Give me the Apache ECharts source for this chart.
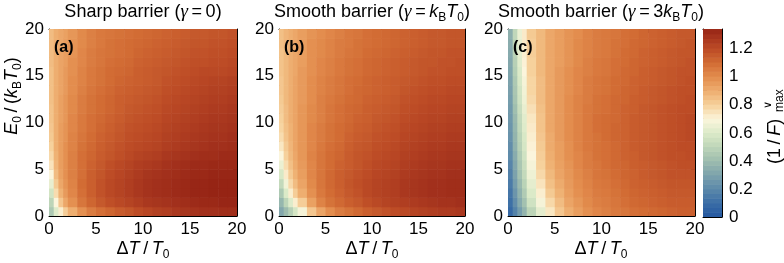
<!DOCTYPE html>
<html><head><meta charset="utf-8">
<script src="https://cdn.jsdelivr.net/npm/echarts@6/dist/echarts.min.js"></script>
<style>html,body{margin:0;padding:0;background:#fff}#c{width:784px;height:263px}</style>
</head><body><div id="c"></div>
<script>
// cell edges (data units) of the sampled grid
const xEdges = [0,0.5,1,1.5,2,3,4,5,6,7,8,9,10,11,12,13,14,15,16,17,18,19,20];
const yEdges = [0,1,2,3,4,5,6,7,8,9,10,11,12,13,14,15,16,17,18,19,20];
const axisTicks = [0,5,10,15,20];
const colorbarTicks = [0,0.2,0.4,0.6,0.8,1,1.2];
const panelTitles = ['Sharp barrier', 'Smooth barrier', 'Smooth barrier'];
const panelTags = ['(a)', '(b)', '(c)'];

// (1/F)max values, rows from E0 = 0.5 (bottom) to 19.5 (top)
const panelA = [
[0.45,0.61,0.72,0.81,0.90,0.99,1.05,1.09,1.12,1.15,1.17,1.20,1.22,1.24,1.25,1.27,1.28,1.29,1.30,1.30,1.31,1.31],
[0.50,0.70,0.83,0.92,0.99,1.07,1.12,1.16,1.19,1.21,1.23,1.25,1.27,1.28,1.29,1.30,1.31,1.32,1.33,1.33,1.34,1.34],
[0.57,0.77,0.89,0.96,1.02,1.09,1.14,1.18,1.21,1.23,1.25,1.27,1.29,1.30,1.31,1.32,1.33,1.34,1.34,1.35,1.35,1.35],
[0.64,0.82,0.92,0.98,1.03,1.10,1.14,1.18,1.21,1.23,1.25,1.27,1.29,1.30,1.31,1.32,1.33,1.34,1.34,1.35,1.35,1.35],
[0.70,0.86,0.94,0.99,1.04,1.09,1.14,1.17,1.20,1.22,1.24,1.26,1.28,1.29,1.30,1.31,1.32,1.33,1.33,1.34,1.34,1.34],
[0.75,0.88,0.95,0.99,1.04,1.09,1.13,1.16,1.19,1.21,1.23,1.25,1.26,1.27,1.29,1.30,1.31,1.32,1.32,1.33,1.33,1.33],
[0.78,0.89,0.95,0.99,1.04,1.09,1.12,1.15,1.17,1.19,1.21,1.23,1.24,1.25,1.27,1.28,1.29,1.30,1.31,1.31,1.32,1.32],
[0.80,0.90,0.95,0.99,1.03,1.08,1.11,1.14,1.16,1.18,1.20,1.21,1.22,1.23,1.25,1.26,1.27,1.28,1.29,1.30,1.30,1.31],
[0.82,0.90,0.95,0.98,1.03,1.07,1.10,1.13,1.15,1.17,1.19,1.20,1.21,1.22,1.24,1.25,1.26,1.27,1.28,1.29,1.29,1.30],
[0.83,0.90,0.95,0.98,1.02,1.06,1.09,1.12,1.14,1.16,1.18,1.19,1.20,1.21,1.23,1.24,1.25,1.26,1.27,1.28,1.28,1.29],
[0.84,0.90,0.94,0.97,1.02,1.06,1.09,1.11,1.13,1.15,1.17,1.18,1.19,1.20,1.22,1.23,1.24,1.25,1.26,1.27,1.27,1.28],
[0.84,0.90,0.94,0.97,1.01,1.05,1.08,1.10,1.12,1.14,1.16,1.17,1.18,1.19,1.21,1.22,1.23,1.24,1.25,1.26,1.26,1.27],
[0.85,0.90,0.94,0.97,1.01,1.05,1.08,1.10,1.12,1.14,1.15,1.16,1.17,1.18,1.20,1.21,1.22,1.23,1.24,1.25,1.25,1.26],
[0.85,0.90,0.93,0.96,1.00,1.04,1.07,1.09,1.11,1.13,1.14,1.15,1.16,1.17,1.19,1.20,1.21,1.22,1.23,1.24,1.24,1.25],
[0.85,0.90,0.93,0.96,1.00,1.03,1.06,1.08,1.10,1.12,1.13,1.14,1.15,1.16,1.18,1.19,1.20,1.21,1.22,1.23,1.23,1.24],
[0.85,0.90,0.93,0.96,0.99,1.03,1.06,1.08,1.10,1.11,1.12,1.14,1.15,1.16,1.17,1.18,1.19,1.20,1.21,1.21,1.21,1.22],
[0.86,0.90,0.93,0.95,0.99,1.02,1.05,1.07,1.09,1.10,1.11,1.13,1.14,1.15,1.16,1.17,1.18,1.19,1.19,1.20,1.20,1.21],
[0.86,0.90,0.93,0.95,0.98,1.02,1.05,1.07,1.08,1.09,1.10,1.12,1.13,1.14,1.15,1.16,1.17,1.18,1.18,1.19,1.19,1.20],
[0.86,0.90,0.92,0.95,0.98,1.01,1.04,1.06,1.08,1.09,1.10,1.11,1.12,1.13,1.14,1.15,1.16,1.17,1.17,1.18,1.18,1.19],
[0.86,0.90,0.92,0.94,0.97,1.01,1.04,1.06,1.07,1.08,1.09,1.10,1.11,1.12,1.13,1.14,1.15,1.16,1.16,1.17,1.17,1.18]
];
const panelB = [
[0.32,0.40,0.48,0.58,0.68,0.83,0.93,1.00,1.05,1.08,1.11,1.14,1.16,1.18,1.20,1.21,1.23,1.24,1.25,1.26,1.26,1.27],
[0.38,0.50,0.61,0.72,0.81,0.94,1.03,1.08,1.11,1.14,1.16,1.19,1.21,1.23,1.24,1.25,1.26,1.27,1.28,1.29,1.29,1.30],
[0.45,0.60,0.72,0.81,0.90,0.99,1.06,1.10,1.13,1.16,1.18,1.21,1.23,1.24,1.25,1.27,1.28,1.29,1.30,1.30,1.31,1.31],
[0.52,0.67,0.78,0.86,0.93,1.01,1.07,1.11,1.14,1.17,1.19,1.21,1.23,1.24,1.25,1.27,1.28,1.29,1.30,1.30,1.31,1.31],
[0.59,0.73,0.82,0.89,0.95,1.02,1.07,1.11,1.14,1.16,1.18,1.20,1.22,1.23,1.24,1.26,1.27,1.28,1.29,1.29,1.30,1.30],
[0.65,0.77,0.85,0.91,0.96,1.02,1.07,1.10,1.13,1.15,1.17,1.19,1.21,1.22,1.23,1.25,1.26,1.27,1.28,1.28,1.29,1.29],
[0.70,0.80,0.87,0.92,0.97,1.03,1.07,1.10,1.12,1.15,1.17,1.18,1.20,1.21,1.22,1.24,1.25,1.26,1.27,1.27,1.28,1.28],
[0.74,0.82,0.88,0.93,0.97,1.02,1.06,1.09,1.11,1.14,1.16,1.17,1.19,1.20,1.21,1.23,1.24,1.25,1.26,1.26,1.27,1.27],
[0.77,0.84,0.89,0.93,0.97,1.02,1.05,1.08,1.10,1.13,1.15,1.16,1.18,1.19,1.20,1.22,1.23,1.24,1.25,1.25,1.26,1.26],
[0.79,0.85,0.89,0.93,0.97,1.02,1.05,1.08,1.10,1.12,1.14,1.15,1.17,1.18,1.19,1.21,1.22,1.23,1.24,1.24,1.25,1.25],
[0.80,0.86,0.90,0.93,0.97,1.01,1.04,1.07,1.09,1.11,1.13,1.14,1.16,1.17,1.18,1.20,1.21,1.22,1.23,1.23,1.24,1.24],
[0.81,0.86,0.90,0.93,0.97,1.01,1.04,1.07,1.09,1.11,1.12,1.14,1.15,1.16,1.17,1.19,1.20,1.21,1.22,1.22,1.23,1.23],
[0.82,0.87,0.90,0.93,0.96,1.00,1.04,1.06,1.08,1.10,1.11,1.13,1.14,1.15,1.16,1.18,1.19,1.20,1.21,1.21,1.22,1.22],
[0.83,0.87,0.90,0.93,0.96,1.00,1.03,1.05,1.07,1.09,1.11,1.12,1.13,1.14,1.15,1.17,1.18,1.19,1.20,1.20,1.21,1.21],
[0.83,0.87,0.90,0.93,0.96,1.00,1.03,1.05,1.07,1.09,1.10,1.12,1.13,1.14,1.15,1.16,1.17,1.18,1.19,1.19,1.20,1.20],
[0.84,0.87,0.90,0.92,0.96,0.99,1.02,1.04,1.06,1.08,1.09,1.11,1.12,1.13,1.14,1.15,1.16,1.17,1.18,1.18,1.19,1.19],
[0.84,0.87,0.90,0.92,0.95,0.99,1.02,1.04,1.06,1.08,1.09,1.11,1.12,1.13,1.14,1.15,1.16,1.17,1.17,1.18,1.18,1.19],
[0.84,0.87,0.90,0.92,0.95,0.99,1.01,1.03,1.05,1.07,1.08,1.10,1.11,1.12,1.13,1.14,1.15,1.16,1.17,1.17,1.18,1.18],
[0.85,0.88,0.90,0.92,0.95,0.99,1.01,1.03,1.05,1.06,1.08,1.09,1.10,1.11,1.12,1.13,1.14,1.15,1.16,1.16,1.17,1.17],
[0.85,0.88,0.90,0.92,0.95,0.98,1.00,1.02,1.04,1.06,1.07,1.09,1.10,1.11,1.12,1.13,1.14,1.15,1.16,1.16,1.17,1.17]
];
const panelC = [
[0.08,0.18,0.28,0.37,0.50,0.63,0.74,0.83,0.90,0.95,0.99,1.02,1.04,1.06,1.07,1.09,1.10,1.11,1.12,1.13,1.14,1.14],
[0.11,0.22,0.33,0.42,0.56,0.68,0.78,0.86,0.93,0.97,1.01,1.04,1.05,1.07,1.09,1.11,1.12,1.13,1.14,1.15,1.15,1.15],
[0.13,0.25,0.36,0.46,0.60,0.72,0.82,0.89,0.95,0.99,1.02,1.05,1.06,1.08,1.10,1.12,1.13,1.14,1.15,1.16,1.16,1.16],
[0.15,0.28,0.39,0.49,0.63,0.75,0.85,0.91,0.96,1.00,1.03,1.06,1.07,1.09,1.11,1.13,1.14,1.15,1.16,1.17,1.17,1.17],
[0.17,0.30,0.42,0.52,0.66,0.78,0.87,0.93,0.97,1.01,1.04,1.07,1.08,1.10,1.12,1.13,1.15,1.16,1.17,1.18,1.18,1.18],
[0.19,0.32,0.44,0.54,0.68,0.80,0.89,0.94,0.98,1.02,1.05,1.07,1.09,1.11,1.12,1.14,1.15,1.16,1.17,1.18,1.19,1.19],
[0.21,0.34,0.46,0.56,0.70,0.81,0.90,0.95,0.99,1.02,1.05,1.08,1.09,1.11,1.13,1.14,1.16,1.17,1.18,1.19,1.19,1.20],
[0.22,0.36,0.48,0.58,0.71,0.82,0.91,0.95,0.99,1.03,1.06,1.08,1.09,1.11,1.13,1.15,1.16,1.17,1.18,1.19,1.20,1.20],
[0.24,0.37,0.49,0.59,0.72,0.83,0.91,0.96,1.00,1.03,1.06,1.08,1.10,1.12,1.13,1.15,1.16,1.17,1.18,1.19,1.20,1.21],
[0.25,0.38,0.51,0.61,0.73,0.84,0.92,0.96,1.00,1.03,1.06,1.09,1.10,1.12,1.13,1.15,1.16,1.17,1.18,1.19,1.20,1.21],
[0.26,0.39,0.52,0.62,0.74,0.84,0.92,0.96,1.00,1.03,1.06,1.09,1.10,1.11,1.13,1.15,1.16,1.17,1.18,1.19,1.20,1.21],
[0.27,0.41,0.54,0.64,0.76,0.85,0.92,0.96,1.00,1.03,1.06,1.08,1.09,1.11,1.13,1.14,1.16,1.17,1.18,1.19,1.20,1.20],
[0.28,0.43,0.56,0.66,0.78,0.86,0.92,0.96,1.00,1.03,1.05,1.08,1.09,1.11,1.12,1.14,1.15,1.16,1.17,1.18,1.19,1.20],
[0.29,0.44,0.57,0.67,0.79,0.86,0.92,0.96,0.99,1.02,1.05,1.07,1.08,1.10,1.12,1.13,1.15,1.16,1.17,1.18,1.19,1.19],
[0.30,0.45,0.59,0.68,0.79,0.86,0.92,0.96,0.99,1.02,1.05,1.07,1.08,1.10,1.11,1.13,1.14,1.15,1.16,1.17,1.18,1.19],
[0.31,0.47,0.60,0.70,0.80,0.87,0.92,0.96,0.99,1.02,1.04,1.06,1.07,1.09,1.11,1.12,1.14,1.15,1.16,1.17,1.18,1.18],
[0.32,0.48,0.62,0.71,0.80,0.87,0.92,0.95,0.98,1.01,1.04,1.06,1.07,1.09,1.10,1.12,1.13,1.14,1.15,1.16,1.17,1.18],
[0.33,0.49,0.63,0.72,0.81,0.87,0.92,0.95,0.98,1.01,1.03,1.05,1.06,1.08,1.10,1.11,1.13,1.14,1.15,1.16,1.17,1.17],
[0.34,0.50,0.64,0.73,0.81,0.87,0.92,0.95,0.98,1.01,1.03,1.05,1.06,1.08,1.09,1.11,1.12,1.13,1.14,1.15,1.16,1.17],
[0.35,0.51,0.65,0.73,0.82,0.87,0.92,0.95,0.98,1.00,1.03,1.05,1.06,1.07,1.09,1.10,1.12,1.13,1.14,1.15,1.16,1.16]
];
const colorMax = 1.34;

const FF = '"Liberation Sans", Arial, Helvetica, sans-serif';
const palette = ['#2457a0','#3a6da6','#5b88aa','#7ca2ac','#9dbcae','#bdd5b8','#dbeac8','#fbf5dc',
                 '#f6d19c','#eeae70','#e38d4e','#d26c34','#bd4c26','#a2301c','#8a180c'];

function cells(panel) {
  const out = [];
  for (let j = 0; j < panel.length; j++)
    for (let i = 0; i < panel[j].length; i++)
      out.push([xEdges[i], xEdges[i+1], yEdges[j], yEdges[j+1], panel[j][i]]);
  return out;
}
// colour-bar bands (legend only)
const cbBands = [];
const nb = 40;
for (let k = 0; k < nb; k++) {
  const lo = colorMax * k / nb, hi = colorMax * (k + 1) / nb;
  cbBands.push([0, 1, lo, hi, (lo + hi) / 2]);
}

function renderCell(params, api) {
  const p0 = api.coord([api.value(0), api.value(3)]);
  const p1 = api.coord([api.value(1), api.value(2)]);
  return { type: 'rect',
    shape: { x: p0[0], y: p0[1], width: p1[0] - p0[0] + 0.6, height: p1[1] - p0[1] + 0.6 },
    style: { fill: api.visual('color') } };
}

const grids = [
  { left: 49, top: 29, width: 188, height: 187 },
  { left: 279, top: 29, width: 186, height: 187 },
  { left: 508, top: 29, width: 187, height: 187 },
  { left: 703, top: 29, width: 19, height: 188 }
];
const lineStyle = { color: '#000', width: 1 };
function panelAxis(dim, grid, pos, labels) {
  return {
    type: 'value', gridIndex: grid, position: pos, min: 0, max: 20, interval: 2.5,
    axisLine: { show: true, onZero: false, lineStyle },
    axisTick: { show: true, inside: true, length: 4, lineStyle },
    axisLabel: { show: labels, color: '#000', fontSize: 17, fontFamily: FF, margin: 5,
      formatter: v => (axisTicks.indexOf(v) >= 0 ? String(v) : '') },
    splitLine: { show: false }
  };
}
const xAxes = [], yAxes = [];
for (let g = 0; g < 3; g++) {
  xAxes.push(panelAxis('x', g, 'bottom', true));
  xAxes.push(panelAxis('x', g, 'top', false));
  yAxes.push(panelAxis('y', g, 'left', true));
  yAxes.push(panelAxis('y', g, 'right', false));
}
// colour bar axes
xAxes.push({ type: 'value', gridIndex: 3, position: 'bottom', min: 0, max: 1,
  axisLine: { show: true, onZero: false, lineStyle }, axisTick: { show: false }, axisLabel: { show: false }, splitLine: { show: false } });
xAxes.push({ type: 'value', gridIndex: 3, position: 'top', min: 0, max: 1,
  axisLine: { show: true, onZero: false, lineStyle }, axisTick: { show: false }, axisLabel: { show: false }, splitLine: { show: false } });
function cbAxis(pos, labels) {
  return { type: 'value', gridIndex: 3, position: pos, min: 0, max: colorMax, interval: 0.1,
    axisLine: { show: true, onZero: false, lineStyle },
    axisTick: { show: true, inside: true, length: 4, lineStyle },
    axisLabel: { show: labels, color: '#000', fontSize: 17, fontFamily: FF, margin: 7,
      formatter: v => { const hit = colorbarTicks.find(t => Math.abs(t - v) < 1e-6); return hit === undefined ? '' : String(hit); } },
    splitLine: { show: false } };
}
yAxes.push(cbAxis('right', true));
yAxes.push(cbAxis('left', false));

const series = [panelA, panelB, panelC].map((p, g) => ({
  type: 'custom', xAxisIndex: 2 * g, yAxisIndex: 2 * g, renderItem: renderCell, clip: true,
  encode: { x: [0, 1], y: [2, 3] }, data: cells(p), silent: true, z: 1
}));
series.push({ type: 'custom', xAxisIndex: 6, yAxisIndex: 6, renderItem: renderCell, clip: true,
  encode: { x: [0, 1], y: [2, 3] }, data: cbBands, silent: true, z: 1 });

const SERIF = '"Liberation Serif", "DejaVu Serif", serif';
const richBase = {
  n: { fontSize: 18, fontFamily: FF, color: '#000', lineHeight: 24 },
  it: { fontSize: 18, fontFamily: FF, fontStyle: 'italic', color: '#000', lineHeight: 24 },
  g: { fontSize: 19, fontFamily: SERIF, fontStyle: 'italic', color: '#000', lineHeight: 24 },
  s: { fontSize: 12, fontFamily: FF, color: '#000', verticalAlign: 'bottom', lineHeight: 14 }
};
const centers = [143, 372, 601];
const titleRich = [
  '{n|' + panelTitles[0] + ' (}{g|γ}{n|\u2009=\u20090)}',
  '{n|' + panelTitles[1] + ' (}{g|γ}{n|\u2009=\u2009}{it|k}{s|B}{it|T}{s|0}{n|)}',
  '{n|' + panelTitles[2] + ' (}{g|γ}{n|\u2009=\u20093}{it|k}{s|B}{it|T}{s|0}{n|)}'
];
const graphics = [];
for (let g = 0; g < 3; g++) {
  graphics.push({ type: 'text', x: centers[g], y: 12, silent: true,
    style: { text: titleRich[g], rich: richBase, align: 'center', verticalAlign: 'middle' } });
  graphics.push({ type: 'text', x: centers[g], y: 249, silent: true,
    style: { text: '{n|Δ}{it|T}{n|\u2009/\u2009}{it|T}{s|0}', rich: richBase, align: 'center', verticalAlign: 'middle' } });
  graphics.push({ type: 'text', x: grids[g].left + 5, y: 48, silent: true, z: 10,
    style: { text: panelTags[g], font: 'bold 16px ' + FF, fill: '#000', align: 'left', verticalAlign: 'middle' } });
}
graphics.push({ type: 'text', x: 12, y: 96, rotation: Math.PI / 2, silent: true,
  style: { text: '{it|E}{s|0}{n|\u2009/\u2009(}{it|k}{s|B}{it|T}{s|0}{n|)}', rich: richBase, align: 'center', verticalAlign: 'middle' } });
graphics.push({ type: 'group', x: 775, y: 118, rotation: Math.PI / 2, silent: true, children: [
  { type: 'text', x: -46, y: 0, style: { text: '{n|(1\u2009/\u2009}{it|F}{n|)}', rich: richBase, align: 'left', verticalAlign: 'middle' } },
  { type: 'text', x: 6, y: 5, style: { text: 'max', font: '12px ' + FF, fill: '#000', align: 'left', verticalAlign: 'middle' } },
  { type: 'text', x: 9, y: -7, style: { text: '∨', font: '11px ' + FF, fill: '#000', align: 'left', verticalAlign: 'middle' } }
]});

const chart = echarts.init(document.getElementById('c'), null, { renderer: 'canvas' });
chart.setOption({
  animation: false,
  backgroundColor: '#fff',
  grid: grids,
  xAxis: xAxes,
  yAxis: yAxes,
  visualMap: { type: 'continuous', show: false, min: 0, max: 1.4, dimension: 4,
    seriesIndex: [0, 1, 2, 3], inRange: { color: palette } },
  series,
  graphic: graphics
});
</script></body></html>
